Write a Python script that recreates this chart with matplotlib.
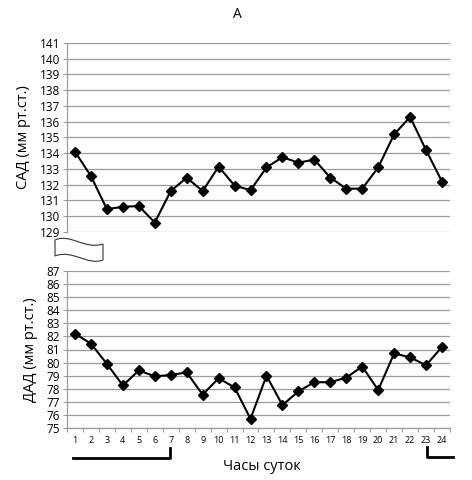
import matplotlib
matplotlib.use("Agg")
import matplotlib.pyplot as plt
from matplotlib.path import Path
from matplotlib.patches import PathPatch
from matplotlib.lines import Line2D
import numpy as np

# ---- data ----
hours = list(range(1, 25))
sad = [134.1, 132.55, 130.45, 130.6, 130.65, 129.6, 131.6, 132.45, 131.6, 133.15,
       131.95, 131.65, 133.1, 133.75, 133.4, 133.6, 132.45, 131.75, 131.75, 133.1,
       135.2, 136.3, 134.2, 132.2]
dad = [82.2, 81.45, 79.9, 78.25, 79.4, 78.95, 79.05, 79.25, 77.55, 78.8,
       78.1, 75.7, 79.0, 76.75, 77.8, 78.5, 78.5, 78.85, 79.7, 77.9,
       80.7, 80.4, 79.8, 81.2]
sad_ticks = list(range(129, 142))
dad_ticks = list(range(75, 88))

plt.rcParams['font.family'] = ['Open Sans', 'DejaVu Sans']

W, H = 472, 480
fig = plt.figure(figsize=(W / 100, H / 100), dpi=100)

def px(x0, y0, x1, y1):
    # pixel box -> figure fraction rect
    return [x0 / W, 1 - y1 / H, (x1 - x0) / W, (y1 - y0) / H]

grid_col = '#9a9a9a'

def style(ax, ticks):
    ax.set_xlim(0.5, 24.5)
    ax.set_ylim(ticks[0], ticks[-1])
    ax.set_yticks(ticks)
    for t in ticks:
        ax.axhline(t, color=grid_col, lw=0.9, zorder=1)
    for s in ['top', 'right', 'bottom']:
        ax.spines[s].set_visible(False)
    ax.spines['left'].set_color(grid_col)
    ax.spines['left'].set_linewidth(0.9)
    ax.tick_params(axis='y', length=3, width=0.8, color=grid_col, labelsize=8.5, pad=2)

ax1 = fig.add_axes(px(67, 43, 450, 232))
style(ax1, sad_ticks)
ax1.plot(hours, sad, color='black', lw=1.5, marker='D', ms=5.5, zorder=3)
ax1.set_xticks([])
ax1.set_ylabel('САД (мм рт.ст.)', fontsize=10.5, labelpad=6)
fig.text(237 / W, 1 - 14 / H, 'А', fontsize=10, ha='center', va='center')

ax2 = fig.add_axes(px(67, 271, 450, 428))
style(ax2, dad_ticks)
ax2.plot(hours, dad, color='black', lw=1.5, marker='D', ms=5.5, zorder=3)
ax2.spines['bottom'].set_visible(True)
ax2.spines['bottom'].set_color(grid_col)
ax2.spines['bottom'].set_linewidth(0.9)
ax2.set_xticks(hours)
ax2.set_xticklabels([str(h) for h in hours])
ax2.set_xticks(np.arange(0.5, 25, 1), minor=True)
ax2.tick_params(axis='x', which='major', length=0, labelsize=6.5, pad=6)
ax2.tick_params(axis='x', which='minor', length=3, width=0.8, color=grid_col)
ax2.set_ylabel('ДАД (мм рт.ст.)', fontsize=10.5, labelpad=6)
fig.text(262 / W, 1 - 466 / H, 'Часы суток', fontsize=10.5, ha='center', va='center')

# break symbol (wavy flag) in pixel coords
def fp(x, y):
    return (x / W, 1 - y / H)

verts = [fp(55, 240), fp(70, 233), fp(85, 250), fp(103, 244),
         fp(103, 260),
         fp(88, 266), fp(72, 249), fp(55, 256),
         fp(55, 240)]
codes = [Path.MOVETO, Path.CURVE4, Path.CURVE4, Path.CURVE4,
         Path.LINETO,
         Path.CURVE4, Path.CURVE4, Path.CURVE4,
         Path.CLOSEPOLY]
fig.patches.append(PathPatch(Path(verts, codes), transform=fig.transFigure,
                             facecolor='white', edgecolor='#333333', lw=0.8))

# night brackets
for xs, ys in [([73, 170, 170], [458, 458, 448]),
               ([427, 427, 453], [447, 457, 457])]:
    fig.lines.append(Line2D([x / W for x in xs], [1 - y / H for y in ys],
                            transform=fig.transFigure, color='black', lw=2))

fig.savefig('out.png', dpi=100)
